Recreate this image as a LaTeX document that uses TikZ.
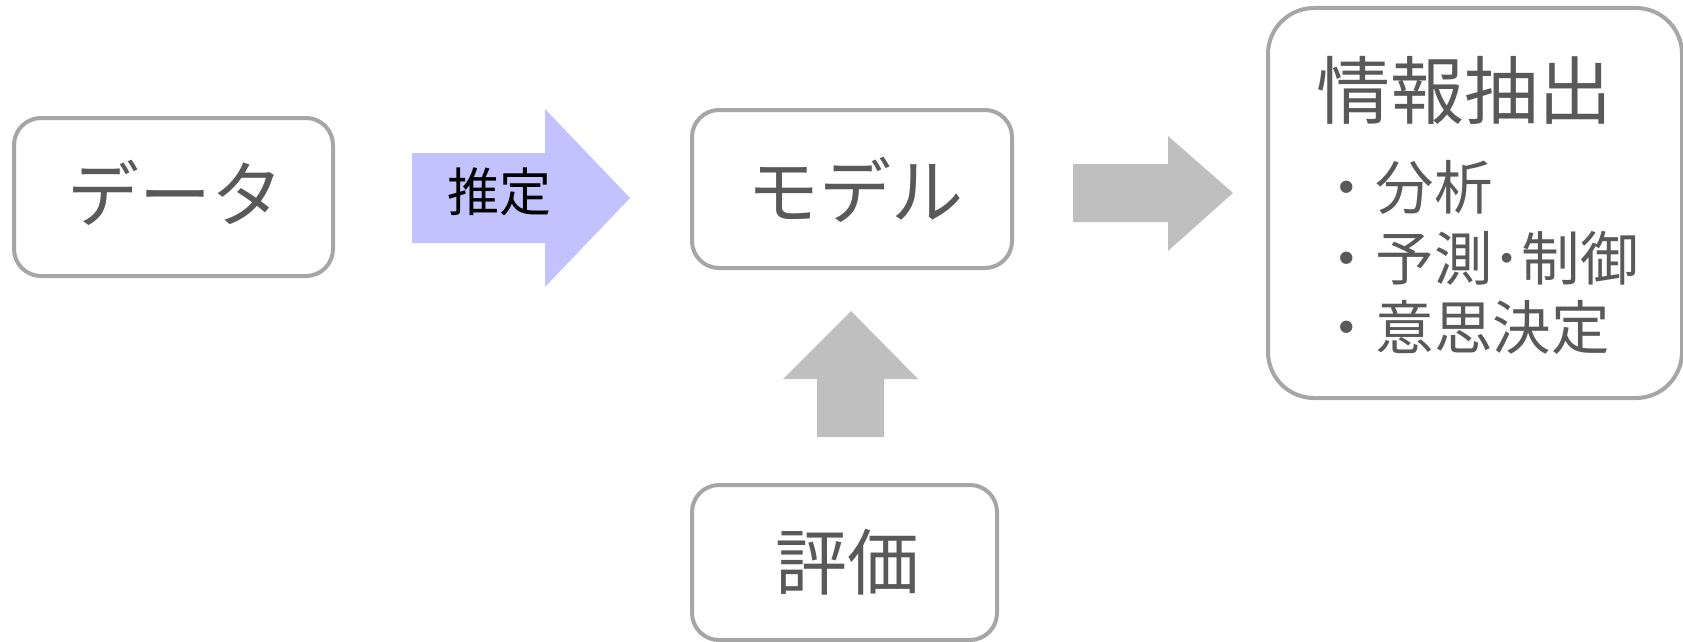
\documentclass[tikz,border=0pt]{standalone}
\usepackage{fontspec}
\setmainfont{Noto Sans CJK JP}
\definecolor{boxline}{RGB}{166,166,166}
\definecolor{txt}{RGB}{89,89,89}
\definecolor{arrgray}{RGB}{191,191,191}
\definecolor{arrblue}{RGB}{194,194,255}
\tikzset{
  rbox/.style={draw=boxline, line width=4pt, fill=white},
  lbl/.style={inner sep=0pt, text=txt, font=\fontsize{72}{80}\selectfont},
  item/.style={inner sep=0pt, text=txt, anchor=west, font=\fontsize{58.5}{64}\selectfont},
}
\begin{document}
\begin{tikzpicture}[x=1pt,y=-1pt]
\useasboundingbox (0,0) rectangle (1683,642);
% boxes
\draw[rbox, rounded corners=27pt] (14,118) rectangle (333,276);
\draw[rbox, rounded corners=27pt] (692,110) rectangle (1012,268);
\draw[rbox, rounded corners=27pt] (692,485) rectangle (997,640);
\draw[rbox, rounded corners=46pt] (1268,8) rectangle (1682,398);
% labels
\node[lbl] (data) at (175,193) {データ};
\node[lbl] (model) at (855,190) {モデル};
\node[lbl] (eval) at (847,562) {評価};
\node[lbl, font=\fontsize{74}{80}\selectfont] (info) at (1464,90) {情報抽出};
\node[item] (i1) at (1317,187) {・分析};
\node[item] (i2) at (1317,258) {・予測･制御};
\node[item] (i3) at (1317,327) {・意思決定};
% arrows
\fill[arrblue] (412,153) -- (545,153) -- (545,109) -- (630,198) -- (545,287) -- (545,243) -- (412,243) -- cycle;
\node[inner sep=0pt, text=black, font=\fontsize{52}{60}\selectfont] (est) at (499,192) {推定};
\fill[arrgray] (1073,164) -- (1168,164) -- (1168,136) -- (1233,193) -- (1168,251) -- (1168,222) -- (1073,222) -- cycle;
\fill[arrgray] (817,437) -- (817,379) -- (783,379) -- (851,311) -- (918,379) -- (884,379) -- (884,437) -- cycle;
\end{tikzpicture}
\end{document}
